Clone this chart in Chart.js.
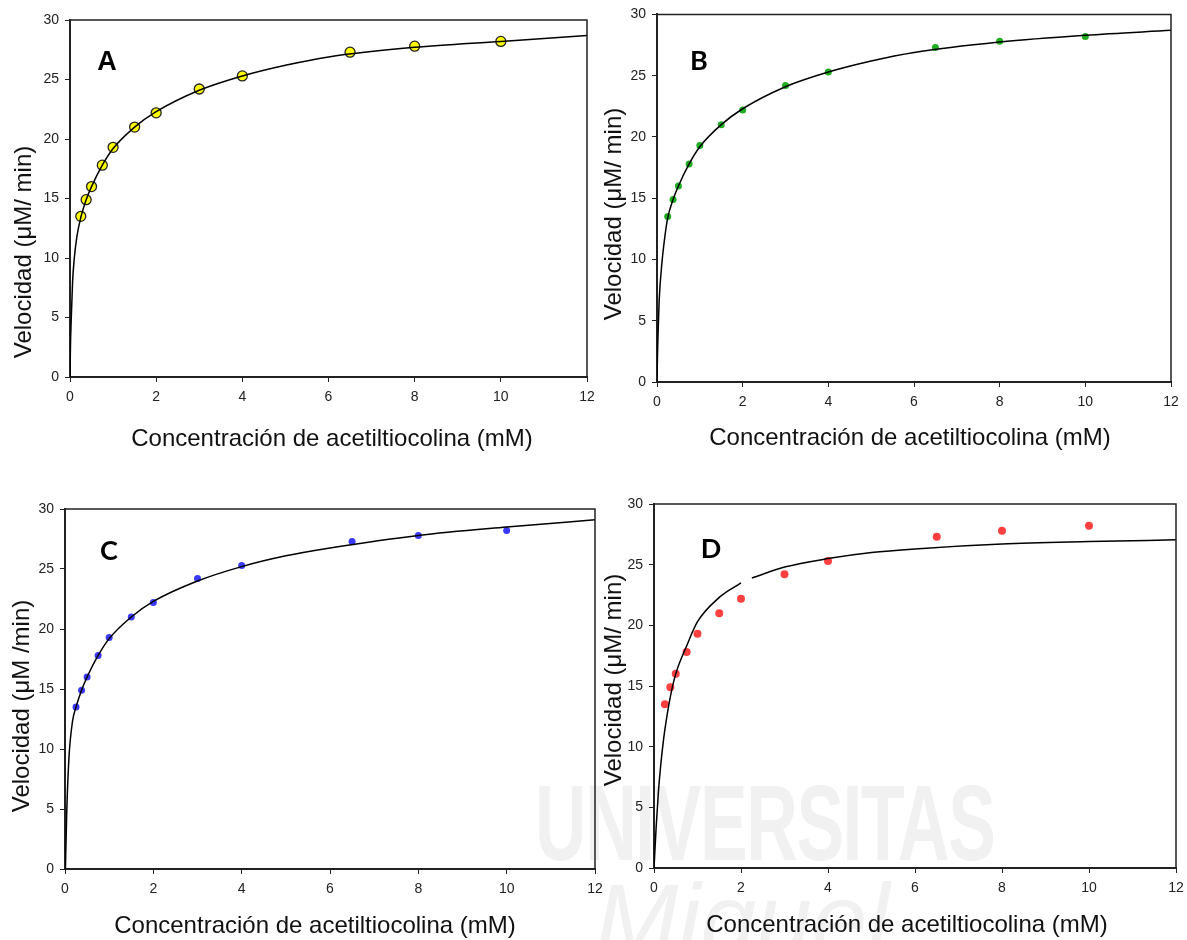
<!DOCTYPE html>
<html>
<head>
<meta charset="utf-8">
<script src="https://cdn.jsdelivr.net/npm/chart.js@4.4.1/dist/chart.umd.min.js"></script>
<style>
  body { margin: 0; background: #fff; width: 1187px; height: 940px; position: relative; overflow: hidden; }
  canvas { position: absolute; }
  .letra { position: absolute; font-weight: bold; font-size: 27px; line-height: 1; color: #000; transform: translate(-50%, -50%); }
  .titulo { position: absolute; font-family: 'Liberation Sans', sans-serif; font-size: 24px; line-height: 1; color: #111; white-space: nowrap; transform: translate(-50%, -50%); }
  .titulo.vert { transform: translate(-50%, -50%) rotate(-90deg); }
  .marca { position: absolute; color: #f1f1f1; font-family: 'Liberation Sans', sans-serif; font-weight: bold; white-space: nowrap; }
</style>
</head>
<body>
<div class="marca" style="left:535px;top:760px;font-size:108px;letter-spacing:-2px;transform:scaleX(0.66);transform-origin:left top;">UNIVERSITAS</div>
<div class="marca" style="left:595px;top:862px;font-size:100px;font-style:italic;font-weight:normal;">Miguel</div>

<canvas id="chartA" width="602" height="460" style="left:0;top:0"></canvas>
<canvas id="chartB" width="592" height="460" style="left:595px;top:0"></canvas>
<canvas id="chartC" width="610" height="470" style="left:0;top:470px"></canvas>
<canvas id="chartD" width="596" height="470" style="left:595px;top:470px"></canvas>

<div class="letra" style="left:107px;top:61px;font-family:'Liberation Sans',sans-serif;">A</div>
<div class="letra" style="left:699px;top:59px;font-family:Lato,sans-serif;">B</div>
<div class="letra" style="left:109px;top:549px;font-family:Lato,sans-serif;">C</div>
<div class="letra" style="left:711px;top:547px;font-family:Lato,sans-serif;">D</div>

<div class="titulo vert" style="left:23px;top:252px;">Velocidad (μM/ min)</div>
<div class="titulo vert" style="left:613px;top:214px;">Velocidad (μM/ min)</div>
<div class="titulo vert" style="left:21px;top:706px;">Velocidad (μM /min)</div>
<div class="titulo vert" style="left:613px;top:680px;">Velocidad (μM/ min)</div>

<div class="titulo" style="left:332px;top:438px;">Concentración de acetiltiocolina (mM)</div>
<div class="titulo" style="left:910px;top:437px;">Concentración de acetiltiocolina (mM)</div>
<div class="titulo" style="left:315px;top:925px;">Concentración de acetiltiocolina (mM)</div>
<div class="titulo" style="left:907px;top:924px;">Concentración de acetiltiocolina (mM)</div>

<script>
// datos experimentales (iguales en los cuatro paneles)
const concentraciones = [0.25, 0.375, 0.5, 0.75, 1, 1.5, 2, 3, 4, 6.5, 8, 10];
const velocidades = [13.5, 14.9, 16.0, 17.8, 19.3, 21.0, 22.2, 24.2, 25.3, 27.3, 27.8, 28.2];

// curvas de ajuste
const ajusteA_x = [0, 0.01, 0.03, 0.06, 0.1, 0.16, 0.25, 0.375, 0.5, 0.75, 1, 1.5, 2, 3, 4, 5, 6, 8, 10, 12];
const ajusteA_y = [0, 2.5, 5, 8, 10, 11.8, 13.4, 14.9, 16.0, 17.8, 19.2, 21.0, 22.3, 24.1, 25.3, 26.2, 26.9, 27.7, 28.2, 28.7];

const ajusteB_x = [0, 0.01, 0.02, 0.05, 0.12, 0.2, 0.25, 0.375, 0.5, 0.75, 1, 1.5, 2, 3, 4, 5, 6, 8, 10, 12];
const ajusteB_y = [0, 2, 3.4, 6.6, 9.9, 12.3, 13.4, 14.9, 16.0, 17.8, 19.2, 21.0, 22.3, 24.1, 25.3, 26.2, 26.9, 27.75, 28.3, 28.7];

const ajusteC_x = [0.01, 0.015, 0.025, 0.04, 0.09, 0.17, 0.25, 0.375, 0.5, 0.75, 1, 1.5, 2, 3, 4, 5, 6, 8, 10, 12];
const ajusteC_y = [0, 1.0, 2.5, 4.8, 9.3, 12.3, 13.5, 14.9, 16.0, 17.8, 19.2, 21.0, 22.3, 24.0, 25.2, 26.1, 26.75, 27.8, 28.5, 29.1];

// panel D: la linea tiene un corte entre 2 y 2.25
const ajusteD_x = [0, 0.05, 0.1, 0.15, 0.2, 0.25, 0.375, 0.5, 0.75, 1, 1.5, 2, 2.1, 2.25, 3, 4, 5, 6, 8, 10, 12];
const ajusteD_y = [0, 3.4, 6.2, 8.3, 10.0, 11.4, 14.1, 16.0, 18.3, 20.3, 22.3, 23.5, null, 23.9, 24.8, 25.5, 26.0, 26.3, 26.7, 26.9, 27.05];

const xTicks = [0, 2, 4, 6, 8, 10, 12];
const yTicks = [0, 5, 10, 15, 20, 25, 30];

const marco = {
  id: 'marco',
  afterDraw(chart) {
    const { ctx, chartArea: a } = chart;
    ctx.save();
    ctx.strokeStyle = '#222';
    ctx.lineWidth = 1.5;
    ctx.beginPath();
    ctx.moveTo(a.left, a.top);
    ctx.lineTo(a.right, a.top);
    ctx.lineTo(a.right, a.bottom);
    ctx.stroke();
    ctx.restore();
  }
};

function pares(xs, ys) {
  return xs.map((x, i) => ({ x: x, y: ys[i] }));
}

function panel(id, p) {
  new Chart(document.getElementById(id), {
    type: 'scatter',
    data: {
      datasets: [
        {
          data: pares(p.curvaX, p.curvaY),
          showLine: true,
          borderColor: '#000',
          borderWidth: 1.5,
          pointRadius: 0,
          cubicInterpolationMode: 'monotone',
          spanGaps: false,
          order: 0
        },
        {
          data: pares(concentraciones, velocidades),
          showLine: false,
          pointRadius: p.radio,
          backgroundColor: p.color,
          borderColor: p.borde,
          borderWidth: p.bordeAncho,
          order: 1
        }
      ]
    },
    options: {
      responsive: false,
      animation: false,
      layout: { padding: p.padding },
      plugins: { legend: { display: false }, tooltip: { enabled: false } },
      scales: {
        x: {
          type: 'linear', min: 0, max: 12,
          afterBuildTicks: s => { s.ticks = xTicks.map(v => ({ value: v })); },
          afterFit: s => { s.height = p.xAlto; },
          grid: { drawOnChartArea: false, drawTicks: true, tickLength: 5, color: '#222', lineWidth: 1 },
          border: { color: '#222', width: 2 },
          ticks: { font: { family: 'Liberation Sans', size: 14 }, color: '#222', padding: 7, maxRotation: 0 },
          title: { display: false }
        },
        y: {
          type: 'linear', min: 0, max: 30,
          afterBuildTicks: s => { s.ticks = yTicks.map(v => ({ value: v })); },
          afterFit: s => { s.width = p.yAncho; },
          grid: { drawOnChartArea: false, drawTicks: true, tickLength: 5, color: '#222', lineWidth: 1 },
          border: { color: '#222', width: 2 },
          ticks: { font: { family: 'Liberation Sans', size: 14 }, color: '#222', padding: 6 },
          title: { display: false }
        }
      }
    },
    plugins: [marco]
  });
}

panel('chartA', {
  curvaX: ajusteA_x, curvaY: ajusteA_y,
  color: '#ffff00', borde: '#222', bordeAncho: 1.3, radio: 5,
  padding: { top: 20, right: 15, left: 0, bottom: 0 },
  yAncho: 70, xAlto: 83
});

panel('chartB', {
  curvaX: ajusteB_x, curvaY: ajusteB_y,
  color: '#1fae1f', borde: '#1fae1f', bordeAncho: 0, radio: 3.5,
  padding: { top: 13, right: 16, left: 0, bottom: 0 },
  yAncho: 62, xAlto: 78
});

panel('chartC', {
  curvaX: ajusteC_x, curvaY: ajusteC_y,
  color: '#3a3aff', borde: '#3a3aff', bordeAncho: 0, radio: 3.5,
  padding: { top: 39, right: 15, left: 0, bottom: 0 },
  yAncho: 65, xAlto: 71
});

panel('chartD', {
  curvaX: ajusteD_x, curvaY: ajusteD_y,
  color: '#ff4040', borde: '#ff4040', bordeAncho: 0, radio: 4,
  padding: { top: 34, right: 15, left: 0, bottom: 0 },
  yAncho: 59, xAlto: 72
});
</script>
</body>
</html>
